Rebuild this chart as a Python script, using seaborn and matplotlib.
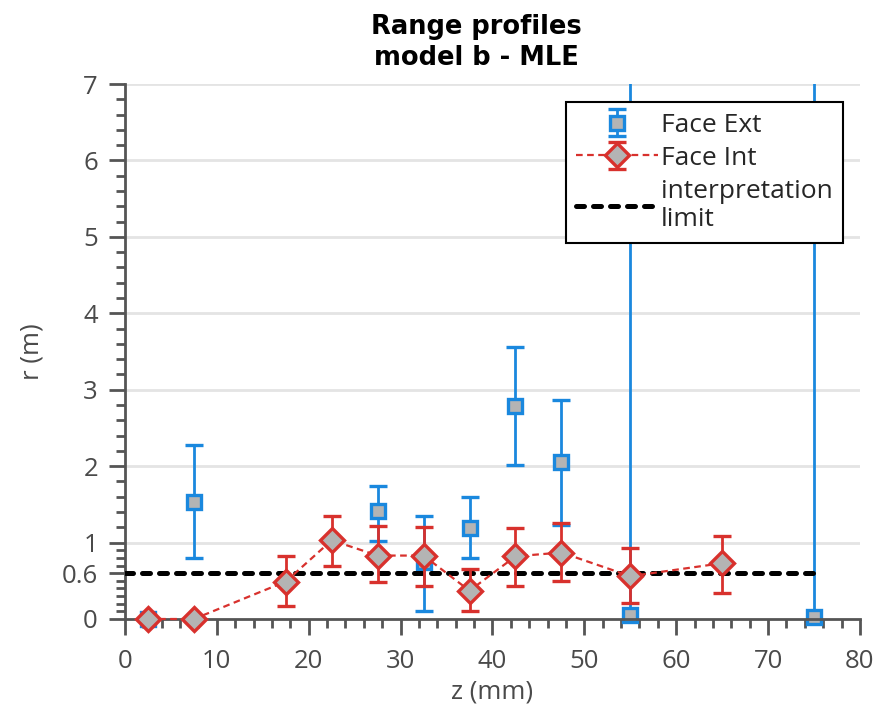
import numpy as np
import pandas as pd
import seaborn as sns
import matplotlib.pyplot as plt
from matplotlib.ticker import FixedLocator

# data
ext_z = [2.5, 7.5, 27.5, 32.5, 37.5, 42.5, 47.5, 55, 75]
ext_r = [0.0, 1.53, 1.41, 0.75, 1.19, 2.79, 2.05, 0.05, 0.02]
ext_lo = [0.0, 0.80, 1.02, 0.10, 0.80, 2.01, 1.23, -10.0, -10.0]
ext_hi = [0.0, 2.28, 1.74, 1.35, 1.59, 3.56, 2.87, 12.0, 12.0]

int_z = [2.5, 7.5, 17.5, 22.5, 27.5, 32.5, 37.5, 42.5, 47.5, 55, 65]
int_r = [0.0, 0.0, 0.49, 1.03, 0.83, 0.83, 0.37, 0.82, 0.87, 0.56, 0.73]
int_lo = [0.0, 0.0, 0.17, 0.70, 0.48, 0.43, 0.10, 0.43, 0.50, 0.21, 0.34]
int_hi = [0.0, 0.0, 0.83, 1.35, 1.22, 1.20, 0.66, 1.19, 1.25, 0.93, 1.09]

limit_z = [0, 75]
limit_r = [0.6, 0.6]

y_ticks = [0, 0.6, 1, 2, 3, 4, 5, 6, 7]
y_ticklabels = ["0", "0.6", "1", "2", "3", "4", "5", "6", "7"]

blue = "#1a88de"
red = "#d8312d"
fill = "#b4b4b4"
axis_col = "#555555"
text_col = "#4a4a4a"

sns.set_theme(style="white")
plt.rcParams["font.family"] = ["Open Sans", "DejaVu Sans"]

fig = plt.figure(figsize=(8.87, 7.10), dpi=100)
ax = fig.add_axes([125 / 887, 1 - 619 / 710, 735 / 887, 535 / 710])

ext = pd.DataFrame({"z": ext_z, "r": ext_r, "lo": ext_lo, "hi": ext_hi})
inn = pd.DataFrame({"z": int_z, "r": int_r, "lo": int_lo, "hi": int_hi})

eb_ext = ax.errorbar(ext["z"], ext["r"],
                     yerr=[ext["r"] - ext["lo"], ext["hi"] - ext["r"]],
                     fmt="s", ms=10.5, mfc=fill, mec=blue, mew=2.4,
                     ecolor=blue, elinewidth=2, capsize=6.5, capthick=2,
                     zorder=2, label="Face Ext")
eb_ext.lines[0].set_clip_on(False)

sns.lineplot(x=limit_z, y=limit_r, ax=ax, color="black", lw=3.6,
             linestyle=(0, (1.6, 1.8)), dash_capstyle="round",
             zorder=3, label="interpretation\nlimit")

eb_int = ax.errorbar(inn["z"], inn["r"],
                     yerr=[inn["r"] - inn["lo"], inn["hi"] - inn["r"]],
                     fmt="D", ls=(0, (3, 2)), lw=1.6, color=red,
                     ms=12, mfc=fill, mec=red, mew=2.4,
                     ecolor=red, elinewidth=2, capsize=6.5, capthick=2,
                     zorder=4, label="Face Int")
eb_int.lines[0].set_clip_on(False)

ax.set_xlim(0, 80)
ax.set_ylim(0, 7)

ax.xaxis.set_major_locator(FixedLocator(np.arange(0, 81, 10)))
ax.xaxis.set_minor_locator(FixedLocator(np.arange(0, 81, 2)))
ax.set_yticks(y_ticks)
ax.set_yticklabels(y_ticklabels)
ax.yaxis.set_minor_locator(FixedLocator(list(np.arange(0, 1.0, 0.1)) + list(np.arange(1, 7.01, 0.2))))

ax.tick_params(axis="both", which="major", direction="out", length=11.5, width=2,
               color=axis_col, labelcolor=text_col, labelsize=18.5)
ax.tick_params(axis="x", which="major", pad=10)
ax.tick_params(axis="y", which="major", pad=8)
ax.tick_params(axis="both", which="minor", direction="out", length=6.5, width=2,
               color=axis_col)
ax.tick_params(left=True, bottom=True, which="both")

ax.grid(axis="y", which="major", color="#e4e4e4", lw=2)
ax.set_axisbelow(True)
gl = ax.yaxis.get_gridlines()
gl[0].set_visible(False)
gl[1].set_visible(False)

for side in ["top", "right"]:
    ax.spines[side].set_visible(False)
for side in ["left", "bottom"]:
    ax.spines[side].set_color(axis_col)
    ax.spines[side].set_linewidth(2)

ax.set_xlabel("z (mm)", fontsize=18.5, color=text_col, labelpad=4)
ax.set_ylabel("r (m)", fontsize=18.5, color=text_col, labelpad=12)
ax.set_title("Range profiles\nmodel b - MLE", fontsize=18.5, fontweight="bold",
             family="DejaVu Sans", color="black", linespacing=1.25, pad=14, x=0.478)

handles, labels = ax.get_legend_handles_labels()
order = [labels.index("Face Ext"), labels.index("Face Int"), labels.index("interpretation\nlimit")]
leg = ax.legend([handles[i] for i in order], [labels[i] for i in order],
                loc="upper right", bbox_to_anchor=(0.977, 0.966), borderaxespad=0,
                fontsize=19, frameon=True, fancybox=False, handlelength=3.1,
                handletextpad=0.1, labelspacing=0.3, borderpad=0.4)
leg.get_frame().set_edgecolor("black")
leg.get_frame().set_linewidth(1.5)
leg.get_frame().set_alpha(1)

fig.savefig("out.png", dpi=100)
